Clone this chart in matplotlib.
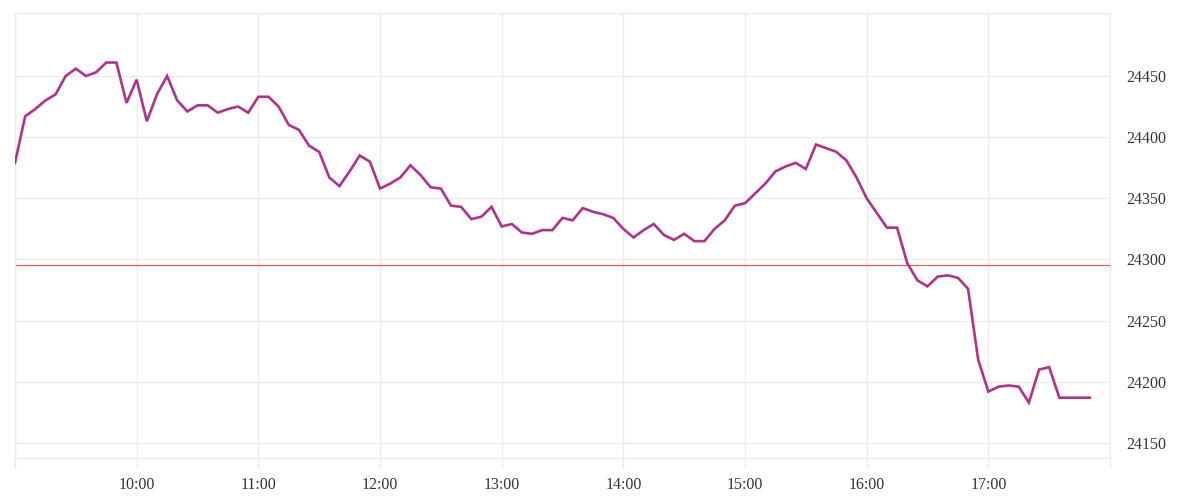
import numpy as np
import pandas as pd
import matplotlib
matplotlib.use("Agg")
import matplotlib.pyplot as plt
import matplotlib.dates as mdates

# 5-minute prices from 09:00 to 17:50
prices = [
    24379, 24417, 24423, 24430, 24435, 24450, 24456, 24450, 24453, 24461,
    24461, 24428, 24447, 24413, 24435, 24450, 24430, 24421, 24426, 24426,
    24420, 24423, 24425, 24420, 24433, 24433, 24425, 24410, 24406,
    24393, 24388, 24367, 24360, 24372, 24385, 24380, 24358, 24362, 24367,
    24377, 24369, 24359, 24358, 24344, 24343, 24333, 24335, 24343, 24327,
    24329, 24322, 24321, 24324, 24324, 24334, 24332,
    24342, 24339, 24337, 24334, 24325, 24318, 24324, 24329, 24320, 24316,
    24321, 24315, 24315, 24325, 24332, 24344, 24346, 24354, 24362, 24372,
    24376, 24379, 24374, 24394, 24391, 24388, 24381,
    24367, 24350, 24338, 24326, 24326, 24297, 24283, 24278, 24286, 24287,
    24285, 24276, 24218, 24192, 24196, 24197, 24196, 24183, 24210, 24212,
    24187, 24187, 24187, 24187,
]
prev_close = 24295.5
y_ticks = [24150, 24200, 24250, 24300, 24350, 24400, 24450]
x_tick_labels = ["", "10:00", "11:00", "12:00", "13:00", "14:00", "15:00", "16:00", "17:00", ""]

times = pd.date_range("2024-01-01 09:00", periods=len(prices), freq="5min")
x_ticks = pd.date_range("2024-01-01 09:00", "2024-01-01 18:00", freq="60min")

grid_col = "#ebebeb"
text_col = "#333333"

fig = plt.figure(figsize=(12, 5), dpi=100)
ax = fig.add_axes([0.0125, 0.084, 0.9125, 0.89])

ax.plot(times, prices, color="#b0328a", lw=1.9, solid_joinstyle="miter", zorder=3)
ax.axhline(prev_close, color="#e05a5a", lw=0.9, zorder=2)

ax.set_xlim(x_ticks[0], x_ticks[-1])
ax.set_ylim(24137.7, 24501.5)

ax.set_xticks(x_ticks)
ax.set_xticklabels(x_tick_labels)
ax.set_yticks(y_ticks)
ax.yaxis.tick_right()
ax.grid(True, color=grid_col, lw=1)

for s in ax.spines.values():
    s.set_color(grid_col)
    s.set_linewidth(1)

ax.tick_params(axis="x", length=7.5, color=grid_col, width=1, pad=6,
               labelsize=11.5, labelcolor=text_col)
ax.tick_params(axis="y", length=0, pad=12, labelsize=11.5, labelcolor=text_col)
for lbl in ax.get_xticklabels() + ax.get_yticklabels():
    lbl.set_family("Liberation Serif")

fig.savefig("out.png", dpi=100)
